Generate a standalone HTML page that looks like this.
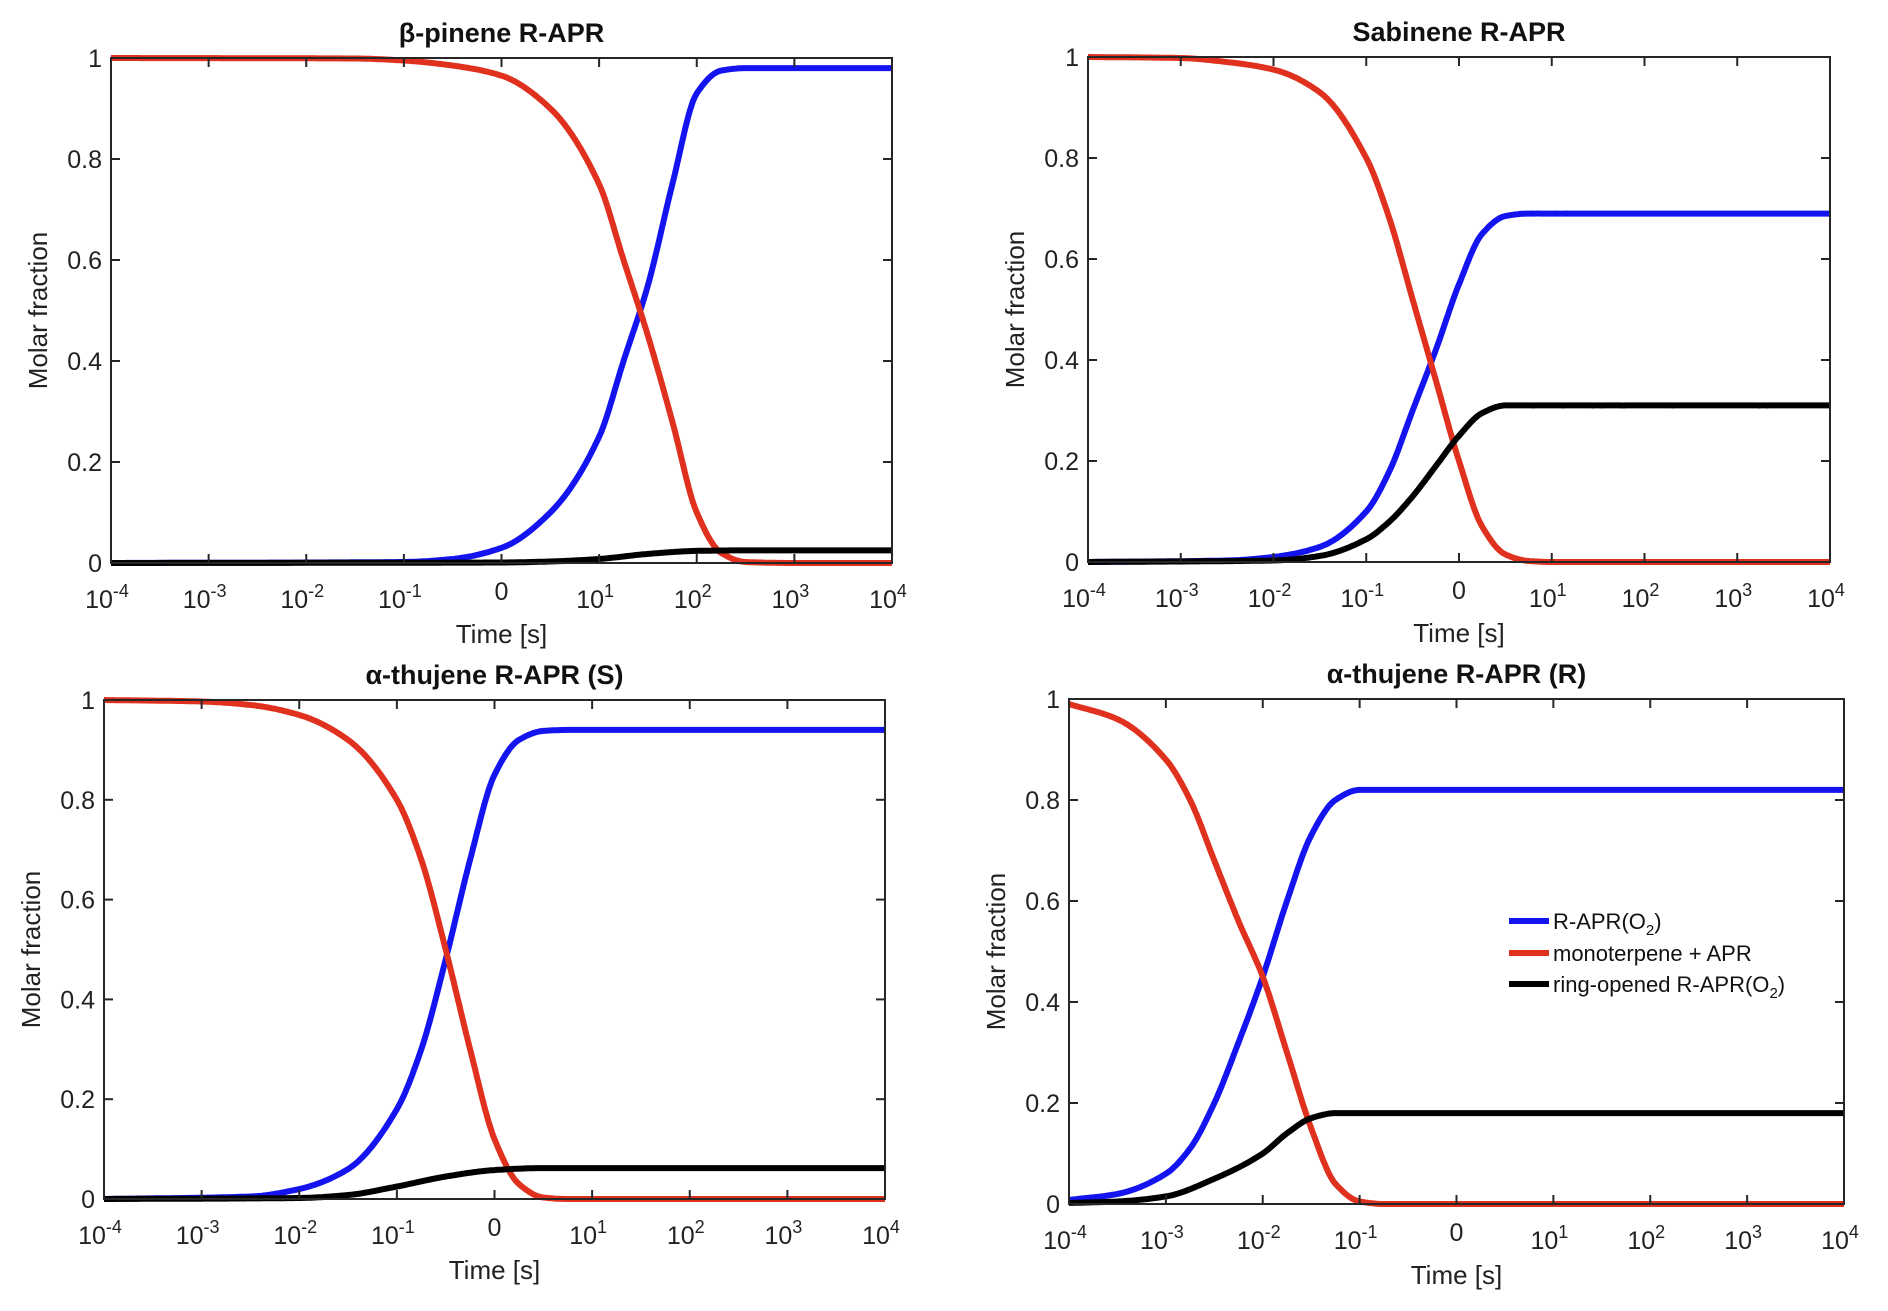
<!DOCTYPE html>
<html><head><meta charset="utf-8"><style>
body{margin:0;background:#fff;}
svg{display:block;font-family:"Liberation Sans",sans-serif;}
</style></head><body>
<svg id="fig" width="1888" height="1311" viewBox="0 0 1888 1311"></svg>
<script>
// Chart data (x = log10 time)
const xTickExps = [-4,-3,-2,-1,0,1,2,3,4];
const yTicks = [0,0.2,0.4,0.6,0.8,1];
const yTickLabels = ["0","0.2","0.4","0.6","0.8","1"];
const seriesNames = ["R-APR(O2)","monoterpene + APR","ring-opened R-APR(O2)"];
const titles = ["β-pinene R-APR","Sabinene R-APR","α-thujene R-APR (S)","α-thujene R-APR (R)"];

const p1BlueX = [-4,-1,-0.5,0,0.5,1,1.25,1.5,1.75,2,2.25,2.5,4];
const p1BlueY = [0,0.002,0.008,0.03,0.1,0.25,0.4,0.55,0.75,0.93,0.975,0.98,0.98];
const p1RedX = [-4,-1.5,-1,-0.5,0,0.5,1,1.25,1.5,1.75,2,2.25,2.5,3,4];
const p1RedY = [1,0.999,0.995,0.985,0.965,0.9,0.75,0.6,0.45,0.28,0.1,0.02,0.002,0,0];
const p1BlackX = [-4,0,0.5,1,1.5,2,2.5,4];
const p1BlackY = [0,0.001,0.003,0.008,0.018,0.024,0.025,0.025];

const p2BlueX = [-4,-2.5,-2,-1.5,-1,-0.75,-0.5,-0.25,0,0.25,0.5,0.75,4];
const p2BlueY = [0,0.003,0.01,0.03,0.1,0.18,0.3,0.42,0.55,0.65,0.685,0.69,0.69];
const p2RedX = [-4,-3,-2.5,-2,-1.5,-1,-0.75,-0.5,-0.25,0,0.25,0.5,0.75,1,4];
const p2RedY = [1,0.998,0.99,0.975,0.93,0.8,0.68,0.52,0.36,0.2,0.07,0.015,0.002,0,0];
const p2BlackX = [-4,-2,-1.5,-1,-0.75,-0.5,-0.25,0,0.25,0.5,0.75,4];
const p2BlackY = [0,0.003,0.012,0.045,0.08,0.13,0.19,0.25,0.295,0.31,0.31,0.31];

const p3BlueX = [-4,-2.5,-2,-1.5,-1,-0.75,-0.5,-0.25,0,0.25,0.5,0.75,4];
const p3BlueY = [0,0.005,0.02,0.06,0.18,0.3,0.48,0.68,0.85,0.92,0.938,0.94,0.94];
const p3RedX = [-4,-3,-2.5,-2,-1.5,-1,-0.75,-0.5,-0.25,0,0.25,0.5,0.75,4];
const p3RedY = [1,0.997,0.99,0.97,0.92,0.8,0.68,0.5,0.3,0.12,0.03,0.003,0,0];
const p3BlackX = [-4,-2,-1.5,-1,-0.5,0,0.5,4];
const p3BlackY = [0,0.002,0.008,0.025,0.045,0.058,0.062,0.062];

const p4BlueX = [-4,-3.5,-3,-2.75,-2.5,-2.25,-2,-1.75,-1.5,-1.25,-1,4];
const p4BlueY = [0.008,0.02,0.06,0.11,0.2,0.32,0.45,0.6,0.73,0.8,0.82,0.82];
const p4RedX = [-4,-3.5,-3,-2.75,-2.5,-2.25,-2,-1.75,-1.5,-1.25,-1,-0.75,4];
const p4RedY = [0.99,0.96,0.88,0.8,0.68,0.56,0.45,0.3,0.15,0.04,0.005,0,0];
const p4BlackX = [-4,-3.5,-3,-2.5,-2,-1.75,-1.5,-1.25,-1,4];
const p4BlackY = [0.002,0.005,0.015,0.05,0.1,0.14,0.17,0.18,0.18,0.18];

const NS="http://www.w3.org/2000/svg";
const svg=document.getElementById('fig');
function mk(tag,attrs,parent,text){const e=document.createElementNS(NS,tag);for(const k in attrs)e.setAttribute(k,attrs[k]);if(text!==undefined)e.textContent=text;(parent||svg).appendChild(e);return e;}

const panels=[
 {L:111,R:892,T:58,B:563,s:[[p1BlueX,p1BlueY],[p1RedX,p1RedY],[p1BlackX,p1BlackY]]},
 {L:1088,R:1830,T:57,B:562,s:[[p2BlueX,p2BlueY],[p2RedX,p2RedY],[p2BlackX,p2BlackY]]},
 {L:104,R:885,T:700,B:1199,s:[[p3BlueX,p3BlueY],[p3RedX,p3RedY],[p3BlackX,p3BlackY]]},
 {L:1069,R:1844,T:699,B:1204,s:[[p4BlueX,p4BlueY],[p4RedX,p4RedY],[p4BlackX,p4BlackY]]}
];
const colors=["#1414f0","#e0301e","#000000"];
const names=["blue-line","red-line","black-line"];

// monotone cubic (Fritsch-Carlson) interpolation in data space
function monotone(xs,ys){
 const n=xs.length,d=[],m=new Array(n);
 for(let i=0;i<n-1;i++)d.push((ys[i+1]-ys[i])/(xs[i+1]-xs[i]));
 m[0]=d[0];m[n-1]=d[n-2];
 for(let i=1;i<n-1;i++){
  if(d[i-1]*d[i]<=0)m[i]=0;
  else{const h0=xs[i]-xs[i-1],h1=xs[i+1]-xs[i];const w1=2*h1+h0,w2=h1+2*h0;m[i]=(w1+w2)/(w1/d[i-1]+w2/d[i]);}
 }
 return function(x){
  let i=0;while(i<n-2&&x>xs[i+1])i++;
  const h=xs[i+1]-xs[i],t=(x-xs[i])/h,t2=t*t,t3=t2*t;
  return (2*t3-3*t2+1)*ys[i]+(t3-2*t2+t)*h*m[i]+(-2*t3+3*t2)*ys[i+1]+(t3-t2)*h*m[i+1];
 };
}

panels.forEach((p,pi)=>{
 const g=mk('g',{});
 
 
 const sx=v=>p.L+(v+4)/8*(p.R-p.L);
 const sy=v=>p.B-v*(p.B-p.T);
 const cx=(p.L+p.R)/2;
 const t=mk('text',{x:cx,y:p.T-16,'text-anchor':'middle','font-size':27,'font-weight':'bold',fill:'#111'},g,titles[pi]);
 
 
 p.s.forEach((s,si)=>{
  const f=monotone(s[0],s[1]);
  let d="";
  const x0=s[0][0],x1=s[0][s[0].length-1];
  for(let k=0;k<=400;k++){const x=x0+(x1-x0)*k/400;d+=(k?"L":"M")+sx(x).toFixed(1)+","+sy(f(x)).toFixed(1);}
  const path=mk('path',{d:d,fill:'none',stroke:colors[si],'stroke-width':6,'stroke-linejoin':'round'},g);
  
  
 });
 const box=mk('rect',{x:p.L,y:p.T,width:p.R-p.L,height:p.B-p.T,fill:'none',stroke:'#262626','stroke-width':2},g);
 
 
 yTicks.forEach((v,i)=>{
  const y=sy(v);
  mk('line',{x1:p.L,y1:y,x2:p.L+9,y2:y,stroke:'#262626','stroke-width':2},g);
  mk('line',{x1:p.R,y1:y,x2:p.R-9,y2:y,stroke:'#262626','stroke-width':2},g);
  const tl=mk('text',{x:p.L-9,y:y+9,'text-anchor':'end','font-size':25,fill:'#222'},g,yTickLabels[i]);
  
  
 });
 xTickExps.forEach(e=>{
  const x=sx(e);
  mk('line',{x1:x,y1:p.B,x2:x,y2:p.B-9,stroke:'#262626','stroke-width':2},g);
  mk('line',{x1:x,y1:p.T,x2:x,y2:p.T+9,stroke:'#262626','stroke-width':2},g);
  let tl;
  if(e===0){tl=mk('text',{x:x,y:p.B+37,'text-anchor':'middle','font-size':25,fill:'#222'},g,"0");}
  else{
   tl=mk('text',{x:x-4,y:p.B+45,'text-anchor':'middle','font-size':25,fill:'#222'},g);
   mk('tspan',{},tl,"10");
   mk('tspan',{dy:-11,'font-size':18},tl,String(e));
  }
  
  
 });
 const xl=mk('text',{x:cx,y:p.B+80,'text-anchor':'middle','font-size':26,fill:'#222'},g,"Time [s]");
 
 
 const yy=(p.T+p.B)/2, yx=p.L-64;
 const yl=mk('text',{x:yx,y:yy,'text-anchor':'middle','font-size':26,fill:'#222',transform:'rotate(-90 '+yx+' '+yy+')'},g,"Molar fraction");
 
 
});

const lg=mk('g',{});


const legY=[921,953,984];
[0,1,2].forEach(i=>{
 const e=mk('g',{},lg);
 
 
 mk('line',{x1:1509,y1:legY[i],x2:1549,y2:legY[i],stroke:colors[i],'stroke-width':6},e);
 const t=mk('text',{x:1553,y:legY[i]+8,'font-size':22,fill:'#111'},e);
 if(i===1){t.textContent="monoterpene + APR";}
 else{
  mk('tspan',{},t,i===0?"R-APR(O":"ring-opened R-APR(O");
  mk('tspan',{dy:6,'font-size':15},t,"2");
  mk('tspan',{dy:-6},t,")");
 }
});
</script>
</body></html>
